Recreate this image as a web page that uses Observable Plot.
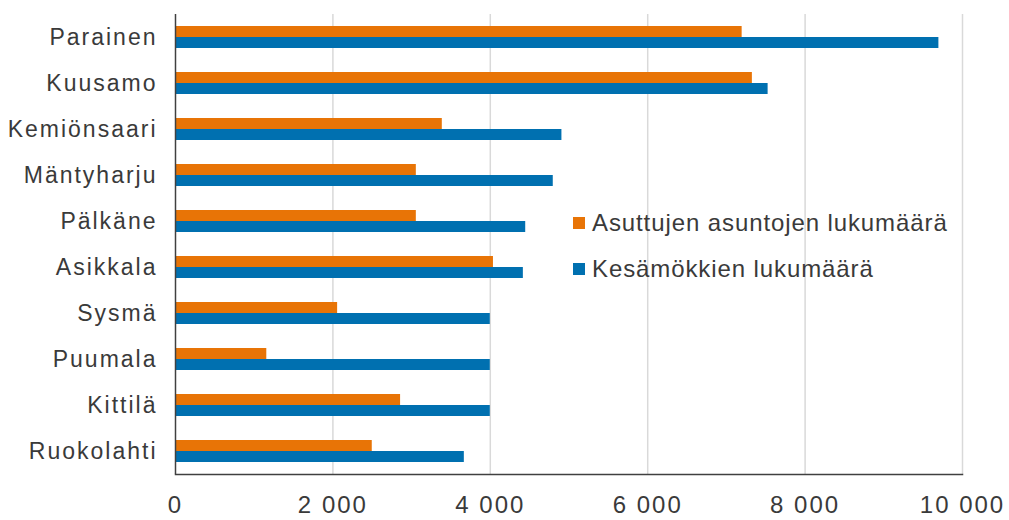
<!DOCTYPE html>
<html>
<head>
<meta charset="utf-8">
<script src="https://cdn.jsdelivr.net/npm/d3@7"></script>
<script src="https://cdn.jsdelivr.net/npm/@observablehq/plot@0.6"></script>
<style>
  html, body { margin: 0; padding: 0; background: #fff; }
  #wrap { position: relative; width: 1009px; height: 520px; font-family: "Liberation Sans", Arial, sans-serif; color: #3a3a3a; }
  #wrap svg text { letter-spacing: 2px; }
  #legend { position: absolute; left: 573px; top: 200px; font-size: 24px; line-height: 46px; color: #3a3a3a; letter-spacing: 0.9px; }
  #legend .item { display: flex; align-items: center; white-space: nowrap; }
  #legend .sw { width: 12px; height: 12px; margin-right: 7px; display: inline-block; }
</style>
</head>
<body>
<div id="wrap"></div>
<script>
const municipalities = ["Parainen", "Kuusamo", "Kemiönsaari", "Mäntyharju", "Pälkäne", "Asikkala", "Sysmä", "Puumala", "Kittilä", "Ruokolahti"];
const inhabited = [7200, 7330, 3390, 3060, 3060, 4040, 2060, 1160, 2860, 2500];
const cottages = [9700, 7530, 4910, 4800, 4450, 4420, 4000, 4000, 4000, 3670];
const seriesNames = ["Asuttujen asuntojen lukumäärä", "Kesämökkien lukumäärä"];
const seriesColors = ["#e87406", "#0070b0"];
const xTicks = [0, 2000, 4000, 6000, 8000, 10000];

const rows = [];
municipalities.forEach((m, i) => {
  rows.push({municipality: m, series: seriesNames[0], value: inhabited[i]});
  rows.push({municipality: m, series: seriesNames[1], value: cottages[i]});
});

const fmt = d => d3.format(",")(d).replace(/,/g, " ");

const chart = Plot.plot({
  width: 1009,
  height: 520,
  marginLeft: 175,
  marginRight: 47,
  marginTop: 12,
  marginBottom: 44,
  style: {fontFamily: "Liberation Sans, Arial, sans-serif", color: "#3a3a3a", background: "#fff"},
  x: {domain: [0, 10000], axis: null},
  y: {domain: seriesNames, paddingInner: 0, paddingOuter: 1.02, axis: null},
  fy: {domain: municipalities, padding: 0, axis: null},
  color: {domain: seriesNames, range: seriesColors},
  marks: [
    Plot.gridX(xTicks.slice(1), {stroke: "#d9d9d9", strokeOpacity: 1, strokeWidth: 1.5}),
    Plot.barX(rows, {fy: "municipality", y: "series", x: "value", fill: "series"}),
    Plot.ruleX([0], {stroke: "#404040", strokeWidth: 1.5}),
    Plot.frame({anchor: "bottom", facetAnchor: "bottom", stroke: "#404040", strokeWidth: 1.5}),
    Plot.axisX({ticks: xTicks, tickFormat: fmt, tickSize: 0, tickPadding: 21, fontSize: 24, label: null}),
    Plot.axisFy({anchor: "left", tickSize: 0, tickPadding: 18, fontSize: 23, label: null})
  ]
});

const wrap = document.getElementById("wrap");
wrap.appendChild(chart);

const legend = document.createElement("div");
legend.id = "legend";
seriesNames.forEach((name, i) => {
  const item = document.createElement("div");
  item.className = "item";
  const sw = document.createElement("span");
  sw.className = "sw";
  sw.style.background = seriesColors[i];
  const t = document.createElement("span");
  t.textContent = name;
  item.appendChild(sw);
  item.appendChild(t);
  legend.appendChild(item);
});
wrap.appendChild(legend);
</script>
</body>
</html>
